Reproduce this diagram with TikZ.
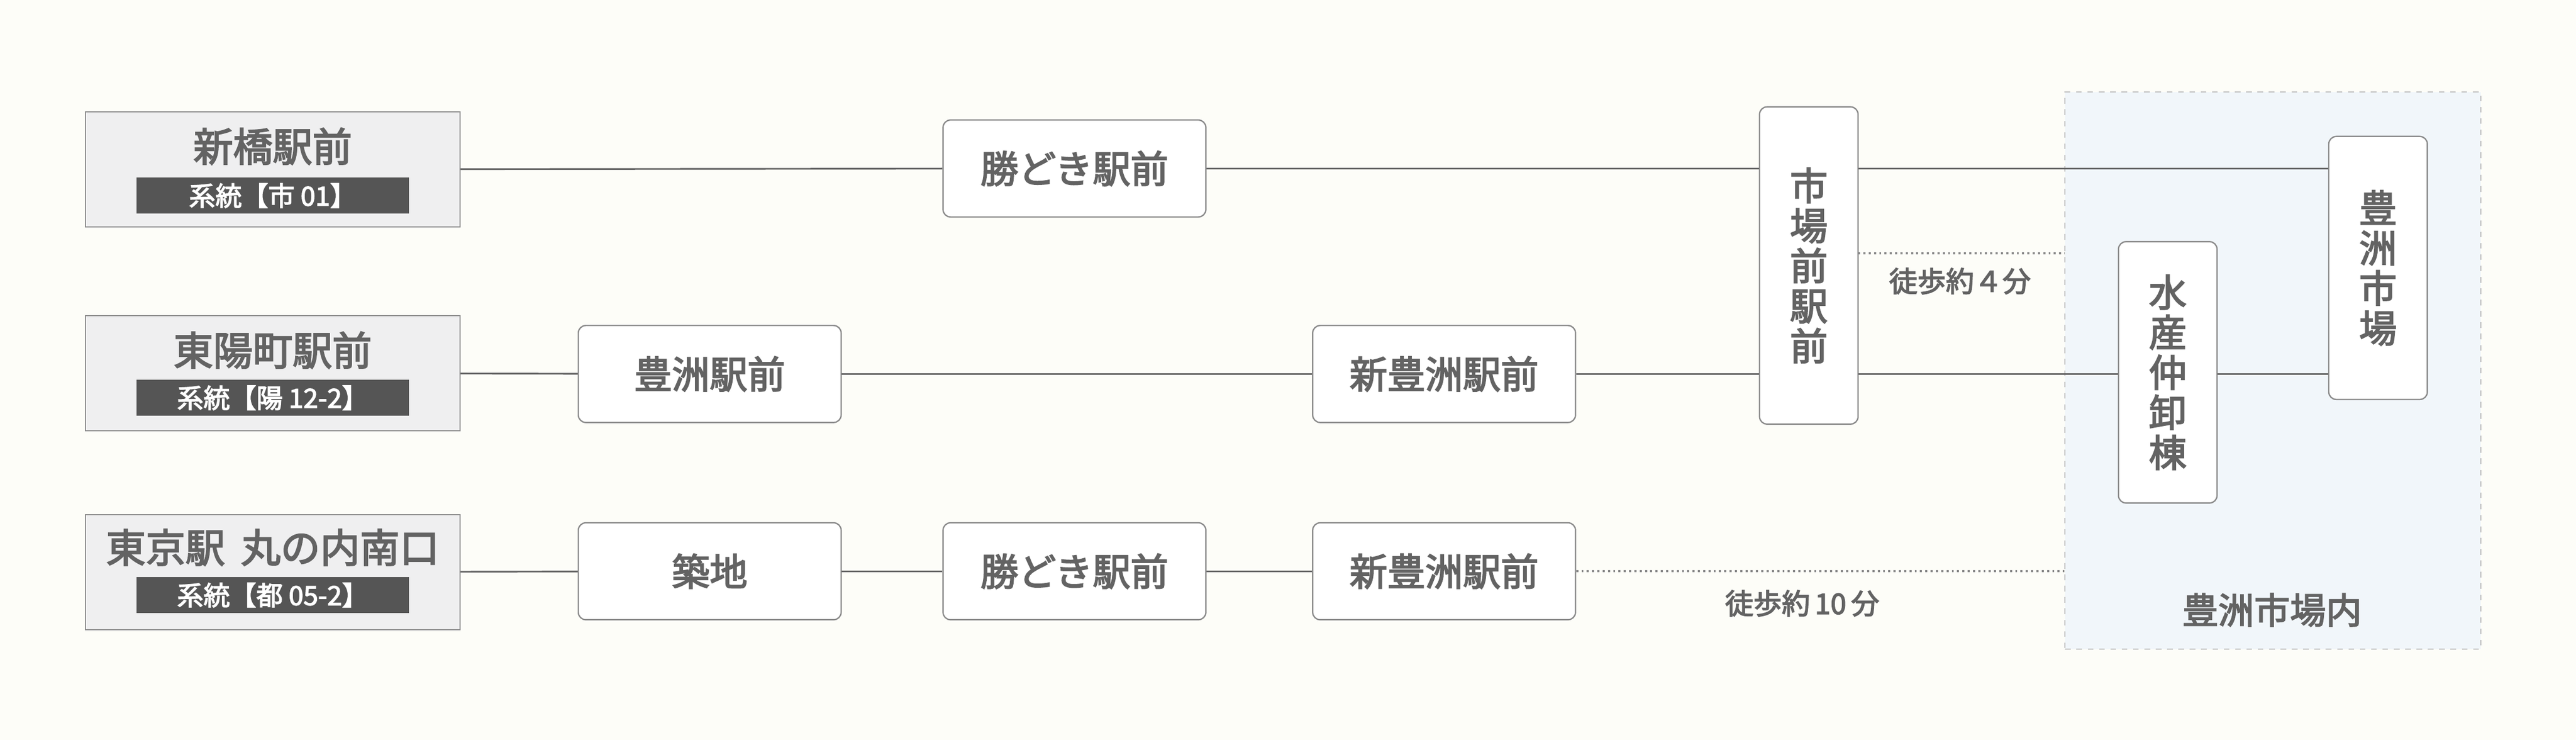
\documentclass[tikz,border=0pt]{standalone}
\usepackage{fontspec}
\setmainfont{Noto Sans CJK JP}[FakeBold=3]
\usetikzlibrary{positioning}

\definecolor{paper}{HTML}{FDFDF8}
\definecolor{ink}{HTML}{636363}
\definecolor{edge}{HTML}{8A8A8A}
\definecolor{panel}{HTML}{EFEFF0}
\definecolor{tagfill}{HTML}{555555}
\definecolor{zonefill}{HTML}{F1F6FA}
\definecolor{zoneedge}{HTML}{BDBDBD}

\newcommand\unitpx{0.03057cm}

\tikzset{
  origin/.style = {draw=edge, fill=panel, line width=0.7pt, inner sep=0pt,
    minimum width=228*\unitpx, minimum height=70*\unitpx},
  origtitle/.style = {text=ink, inner sep=0pt, font=\fontsize{21pt}{24pt}\selectfont},
  tag/.style = {fill=tagfill, text=white, inner sep=0pt,
    minimum width=166*\unitpx, minimum height=22*\unitpx,
    font=\fontsize{14pt}{16pt}\selectfont},
  stopbox/.style = {draw=edge, fill=white, line width=0.7pt, rounded corners=4pt,
    inner sep=0pt, text=ink, minimum width=160*\unitpx, minimum height=59*\unitpx,
    font=\fontsize{20pt}{21.2pt}\selectfont},
  vstopbox/.style = {stopbox, minimum width=60*\unitpx, align=center},
  route/.style = {draw=ink, line width=0.9pt},
  walk/.style = {draw=edge, line width=1.1pt, dash pattern=on 1.1pt off 1.7pt},
  note/.style = {text=ink, inner sep=0pt, font=\fontsize{15pt}{17pt}\selectfont},
  zone/.style = {draw=zoneedge, fill=zonefill, line width=0.6pt, dashed,
    minimum width=253*\unitpx, minimum height=339*\unitpx, inner sep=0pt}
}

\begin{document}
\begin{tikzpicture}[x=\unitpx, y=-\unitpx]

    \fill[paper] (0, 0) rectangle (1568, 450);
    \useasboundingbox (0, 0) rectangle (1568, 450);

    % market area
    \node (market) at (1383.5, 225.5) [zone] {};
    \node (market-t) at (1383, 371) [note, font=\fontsize{19pt}{21pt}\selectfont] {豊洲市場内};

    % bus origins
    \node (shinbashi) at (166, 103) [origin] {};
    \node (shinbashi-t) at (166, 89) [origtitle] {新橋駅前};
    \node (shinbashi-r) at (166, 119) [tag] {系統【市 01】};

    \node (toyocho) at (166, 227) [origin] {};
    \node (toyocho-t) at (166, 213) [origtitle] {東陽町駅前};
    \node (toyocho-r) at (166, 242) [tag] {系統【陽 12-2】};

    \node (tokyo) at (166, 348) [origin] {};
    \node (tokyo-t) at (166, 333) [origtitle] {東京駅\hspace{.4em}丸の内南口};
    \node (tokyo-r) at (166, 362) [tag] {系統【都 05-2】};

    % stops
    \node (kachidoki1) at (654, 102.5) [stopbox] {勝どき駅前};

    \node (toyosu) at (432, 227.5) [stopbox] {豊洲駅前};
    \node (shintoyosu2) at (879, 227.5) [stopbox] {新豊洲駅前};

    \node (tsukiji) at (432, 347.5) [stopbox] {築地};
    \node (kachidoki3) at (654, 347.5) [stopbox] {勝どき駅前};
    \node (shintoyosu3) at (879, 347.5) [stopbox] {新豊洲駅前};

    \node (shijomae) at (1101, 161.5) [vstopbox, minimum height=193*\unitpx] {市\\場\\前\\駅\\前};
    \node (suisan) at (1319.5, 226.5) [vstopbox, minimum height=159*\unitpx] {水\\産\\仲\\卸\\棟};
    \node (shijo) at (1447.5, 163) [vstopbox, minimum height=160*\unitpx] {豊\\洲\\市\\場};

    % routes
    \draw [route] (shinbashi) -- (kachidoki1);
    \draw [route] (kachidoki1) -- (kachidoki1 -| shijomae.west);
    \draw [route] (kachidoki1 -| shijomae.east) -- (kachidoki1 -| shijo.west);

    \draw [route] (toyocho) -- (toyosu);
    \draw [route] (toyosu) -- (shintoyosu2);
    \draw [route] (shintoyosu2) -- (shintoyosu2 -| shijomae.west);
    \draw [route] (shintoyosu2 -| shijomae.east) -- (shintoyosu2 -| suisan.west);
    \draw [route] (shintoyosu2 -| suisan.east) -- (shintoyosu2 -| shijo.west);

    \draw [route] (tokyo) -- (tsukiji);
    \draw [route] (tsukiji) -- (kachidoki3);
    \draw [route] (kachidoki3) -- (shintoyosu3);

    % walking
    \coordinate (walk4) at (1131, 154);
    \draw [walk] (walk4) -- (walk4 -| market.west);
    \node (walk4-t) at (1193, 171) [note] {徒歩約４分};

    \draw [walk] (shintoyosu3) -- (shintoyosu3 -| market.west);
    \node (walk10-t) at (1097, 367) [note] {徒歩約\,10\,分};

\end{tikzpicture}
\end{document}
